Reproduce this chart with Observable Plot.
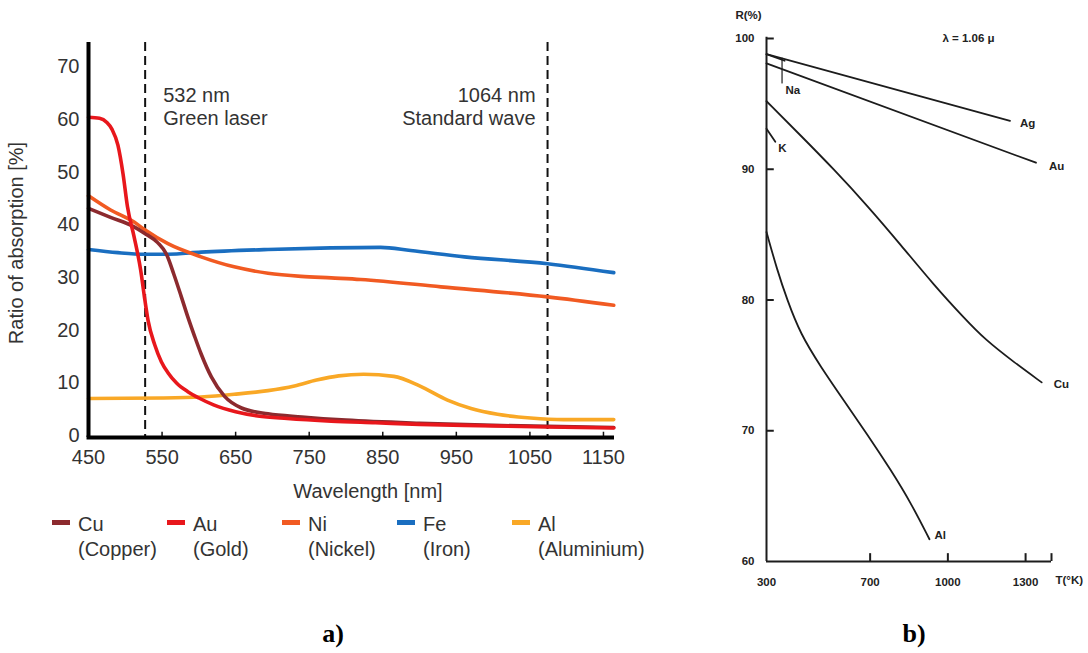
<!DOCTYPE html>
<html><head><meta charset="utf-8">
<script src="https://cdn.jsdelivr.net/npm/d3@7"></script>
<script src="https://cdn.jsdelivr.net/npm/@observablehq/plot@0.6"></script>
<style>
body{margin:0;background:#fff;}
#root{position:relative;width:1088px;height:653px;overflow:hidden;font-family:"Liberation Sans",Arial,sans-serif;background:#fff;}
.abs{position:absolute;white-space:nowrap;}
.plot{position:absolute;top:0;}
</style></head><body><div id="root"></div>
<script>
// ---------- Panel a: absorption vs wavelength ----------
const metals = ["Cu", "Au", "Ni", "Fe", "Al"];
const metalNames = ["(Copper)", "(Gold)", "(Nickel)", "(Iron)", "(Aluminium)"];
const metalColors = ["#8c2a2e", "#e8171c", "#f15a22", "#1a6ec0", "#f9a826"];

const wlCu = [450, 480, 512, 526, 544, 556, 566, 576, 585, 594, 603, 617, 635, 658, 694, 740, 800, 900, 1000, 1164];
const absCu = [43.5, 41.8, 40.0, 38.8, 37.0, 34.8, 31.0, 26.8, 22.9, 19.3, 15.9, 11.5, 7.8, 5.6, 4.5, 3.9, 3.3, 2.7, 2.3, 1.9];

const wlAu = [450, 465, 475, 482, 490, 497, 503, 512, 521, 526, 531, 540, 549, 558, 570, 585, 600, 620, 650, 680, 720, 780, 840, 900, 961, 1074, 1164];
const absAu = [60.8, 60.6, 59.8, 58.5, 55.5, 50.0, 43.8, 38.1, 31.7, 26.7, 22.2, 17.6, 14.4, 12.3, 10.3, 8.7, 7.5, 6.2, 4.9, 4.1, 3.6, 3.1, 2.8, 2.5, 2.3, 2.0, 1.8];

const wlNi = [450, 480, 512, 526, 558, 603, 648, 694, 739, 780, 820, 929, 1074, 1164];
const absNi = [45.9, 43.2, 40.9, 39.5, 36.8, 34.3, 32.4, 31.2, 30.6, 30.3, 30.0, 28.6, 26.7, 25.1];

const wlFe = [450, 490, 526, 558, 603, 694, 779, 847, 888, 961, 1074, 1164];
const absFe = [35.7, 35.1, 34.8, 34.8, 35.2, 35.7, 36.0, 36.1, 35.5, 34.3, 33.0, 31.3];

const wlAl = [450, 550, 603, 648, 694, 730, 760, 790, 824, 865, 900, 938, 970, 1006, 1051, 1096, 1164];
const absAl = [7.4, 7.5, 7.7, 8.2, 8.9, 9.8, 10.9, 11.7, 12.0, 11.6, 9.8, 7.1, 5.5, 4.4, 3.7, 3.4, 3.4];

const xTicksA = [450, 550, 650, 750, 850, 950, 1050, 1150];
const yTicksA = [0, 10, 20, 30, 40, 50, 60, 70];

// dashed laser lines, at the positions drawn in the figure
const laserPos = [527, 1074];
const laserLine1 = ["532 nm", "1064 nm"];
const laserLine2 = ["Green laser", "Standard wave"];

// ---------- Panel b: reflectivity vs temperature ----------
const tAg = [300, 1240], rAg = [98.8, 93.7];
const tAuB = [300, 1340], rAuB = [98.1, 90.5];
const tNa = [300, 370], rNa = [98.8, 98.3];
const tK = [300, 334], rK = [93.1, 92.1];
const tCuB = [300, 431, 560, 690, 819, 948, 1064, 1142, 1258, 1362];
const rCuB = [95.2, 92.6, 90.0, 87.2, 84.2, 81.1, 78.6, 77.0, 75.2, 73.7];
const tAlB = [300, 341, 380, 431, 509, 599, 690, 780, 857, 929];
const rAlB = [85.2, 82.3, 80.0, 77.4, 74.9, 72.3, 69.7, 67.0, 64.5, 61.7];
const naLeaderT = [360, 360], naLeaderR = [98.5, 96.6];
const naLabel = {T: 373, R: 96.0};

const xTicksB = [700, 1000, 1300, 1400];
const xLabelsB = [300, 700, 1000, 1300];
const yTicksB = [60, 70, 80, 90, 100];

// ---------- build tables ----------
const seriesA = [[wlCu, absCu], [wlAu, absAu], [wlNi, absNi], [wlFe, absFe], [wlAl, absAl]];
const drawOrder = [4, 3, 2, 0, 1];
const dataA = drawOrder.flatMap(i => seriesA[i][0].map((w, j) => ({metal: metals[i], wl: w, v: seriesA[i][1][j]})));
const lasers = laserPos.map((p, i) => ({nm: p, l1: laserLine1[i], l2: laserLine2[i]}));

const root = document.getElementById("root");
const textColor = "#333";
const plain = d => String(d);

const plotA = Plot.plot({
  width: 660, height: 470,
  marginLeft: 88, marginRight: 46, marginTop: 42, marginBottom: 33,
  x: {domain: [450, 1165]},
  y: {domain: [0, 75]},
  color: {domain: metals, range: metalColors},
  style: {fontFamily: "'Liberation Sans', Arial, sans-serif", fontSize: "20px", color: textColor, background: "transparent", overflow: "visible"},
  marks: [
    Plot.axisX({ticks: xTicksA, tickFormat: plain, tickSize: 0, tickPadding: 12, label: null, fill: textColor}),
    Plot.axisY({ticks: yTicksA, tickFormat: plain, tickSize: 0, tickPadding: 9, dy: -2, label: null, fill: textColor}),
    Plot.ruleX(xTicksA, {x: d => d, y1: 0, y2: 1, stroke: "#111", strokeWidth: 1.5}),
    Plot.ruleX(lasers, {x: "nm", stroke: "#111", strokeWidth: 2, strokeDasharray: "9,5"}),
    Plot.text(lasers.slice(0, 1), {x: "nm", text: "l1", frameAnchor: "top", dx: 18, dy: 45, textAnchor: "start", fill: textColor, fontSize: 20}),
    Plot.text(lasers.slice(0, 1), {x: "nm", text: "l2", frameAnchor: "top", dx: 18, dy: 68, textAnchor: "start", fill: textColor, fontSize: 20}),
    Plot.text(lasers.slice(1), {x: "nm", text: "l1", frameAnchor: "top", dx: -12, dy: 45, textAnchor: "end", fill: textColor, fontSize: 20}),
    Plot.text(lasers.slice(1), {x: "nm", text: "l2", frameAnchor: "top", dx: -12, dy: 68, textAnchor: "end", fill: textColor, fontSize: 20}),
    Plot.line(dataA, {x: "wl", y: "v", z: "metal", stroke: "metal", strokeWidth: 3.6, curve: "monotone-x"}),
    Plot.ruleX([450], {y1: 0, y2: 75, stroke: "#000", strokeWidth: 4}),
    Plot.ruleY([0], {x1: 448, x2: 1165, stroke: "#000", strokeWidth: 4})
  ]
});
plotA.classList.add("plot");
plotA.style.left = "0px";
root.appendChild(plotA);

function addText(txt, left, top, css) {
  const d = document.createElement("div");
  d.className = "abs";
  d.textContent = txt;
  d.style.left = left + "px";
  d.style.top = top + "px";
  Object.assign(d.style, css || {});
  root.appendChild(d);
  return d;
}

addText("Ratio of absorption [%]", 16, 243, {transform: "translate(-50%,-50%) rotate(-90deg)", fontSize: "20px", color: textColor});
addText("Wavelength [nm]", 368, 491, {transform: "translate(-50%,-50%)", fontSize: "20px", color: textColor});

metals.forEach((m, i) => {
  const x0 = 52 + i * 115;
  const sw = document.createElement("div");
  sw.className = "abs";
  Object.assign(sw.style, {left: x0 + "px", top: "520px", width: "18px", height: "5px", background: metalColors[i]});
  root.appendChild(sw);
  addText(m, x0 + 26, 524, {transform: "translateY(-50%)", fontSize: "20px", color: textColor});
  addText(metalNames[i], x0 + 26, 549, {transform: "translateY(-50%)", fontSize: "20px", color: textColor});
});

addText("a)", 333, 634, {transform: "translate(-50%,-50%)", fontFamily: "'Liberation Serif', 'Times New Roman', serif", fontWeight: "bold", fontSize: "26px", color: "#000"});
addText("b)", 914, 634, {transform: "translate(-50%,-50%)", fontFamily: "'Liberation Serif', 'Times New Roman', serif", fontWeight: "bold", fontSize: "26px", color: "#000"});

// ---------- panel b ----------
const seriesB = [["Ag", tAg, rAg], ["Au", tAuB, rAuB], ["Na", tNa, rNa], ["K", tK, rK], ["Cu", tCuB, rCuB], ["Al", tAlB, rAlB]];
const dataB = seriesB.flatMap(([n, t, r]) => t.map((v, j) => ({name: n, T: v, R: r[j]})));
const leader = naLeaderT.map((t, j) => ({T: t, R: naLeaderR[j]}));
const labelOffsets = {Ag: [10, 2], Au: [13, 4], Cu: [12, 2], Al: [5, -4], K: [3, 7]};
const labelsB = seriesB.filter(s => s[0] in labelOffsets).map(([n, t, r]) => ({name: n, T: t[t.length - 1], R: r[r.length - 1]}));
const lineColor = "#1c1c1c";
const fontB = {fontFamily: "'Liberation Sans', Arial, sans-serif", fontWeight: "bold", fill: "#222", fontSize: 11.5};

const plotB = Plot.plot({
  width: 388, height: 600,
  marginLeft: 66, marginRight: 37, marginTop: 38, marginBottom: 39,
  x: {domain: [300, 1400]},
  y: {domain: [60, 100]},
  style: {fontFamily: "'Liberation Sans', Arial, sans-serif", fontSize: "11.5px", fontWeight: "bold", color: "#222", background: "transparent", overflow: "visible"},
  marks: [
    Plot.axisX({ticks: xLabelsB, tickFormat: plain, tickSize: 0, tickPadding: 16, label: null, fill: "#222"}),
    Plot.axisY({ticks: yTicksB, tickFormat: plain, tickSize: 0, tickPadding: 12, label: null, fill: "#222"}),
    Plot.ruleX(xTicksB, {x: d => d, y1: 60, y2: 60.6, stroke: lineColor, strokeWidth: 2}),
    Plot.ruleY(yTicksB.slice(1), {y: d => d, x1: 300, x2: 330, stroke: lineColor, strokeWidth: 2}),
    Plot.ruleX([300], {y1: 60, y2: 100.1, stroke: lineColor, strokeWidth: 2}),
    Plot.ruleY([60], {x1: 300, x2: 1400, stroke: lineColor, strokeWidth: 2}),
    Plot.line(dataB, {x: "T", y: "R", z: "name", stroke: lineColor, strokeWidth: 1.8, curve: "basis"}),
    Plot.line(leader, {x: "T", y: "R", stroke: lineColor, strokeWidth: 1.2}),
    ...labelsB.map(l => Plot.text([l], {x: "T", y: "R", text: "name", textAnchor: "start", dx: labelOffsets[l.name][0], dy: labelOffsets[l.name][1], ...fontB})),
    Plot.text([naLabel], {x: "T", y: "R", text: () => "Na", textAnchor: "start", ...fontB}),
    Plot.text(["λ = 1.06 μ"], {frameAnchor: "top-right", dx: -83, dy: -5, text: d => d, textAnchor: "middle", ...fontB}),
    Plot.text(["R(%)"], {frameAnchor: "top-left", dx: -18, dy: -28, text: d => d, textAnchor: "middle", ...fontB}),
    Plot.text(["T(°K)"], {frameAnchor: "bottom-right", dx: 4, dy: 22, text: d => d, textAnchor: "start", ...fontB})
  ]
});
plotB.classList.add("plot");
plotB.style.left = "700px";
root.appendChild(plotB);
</script></body></html>
